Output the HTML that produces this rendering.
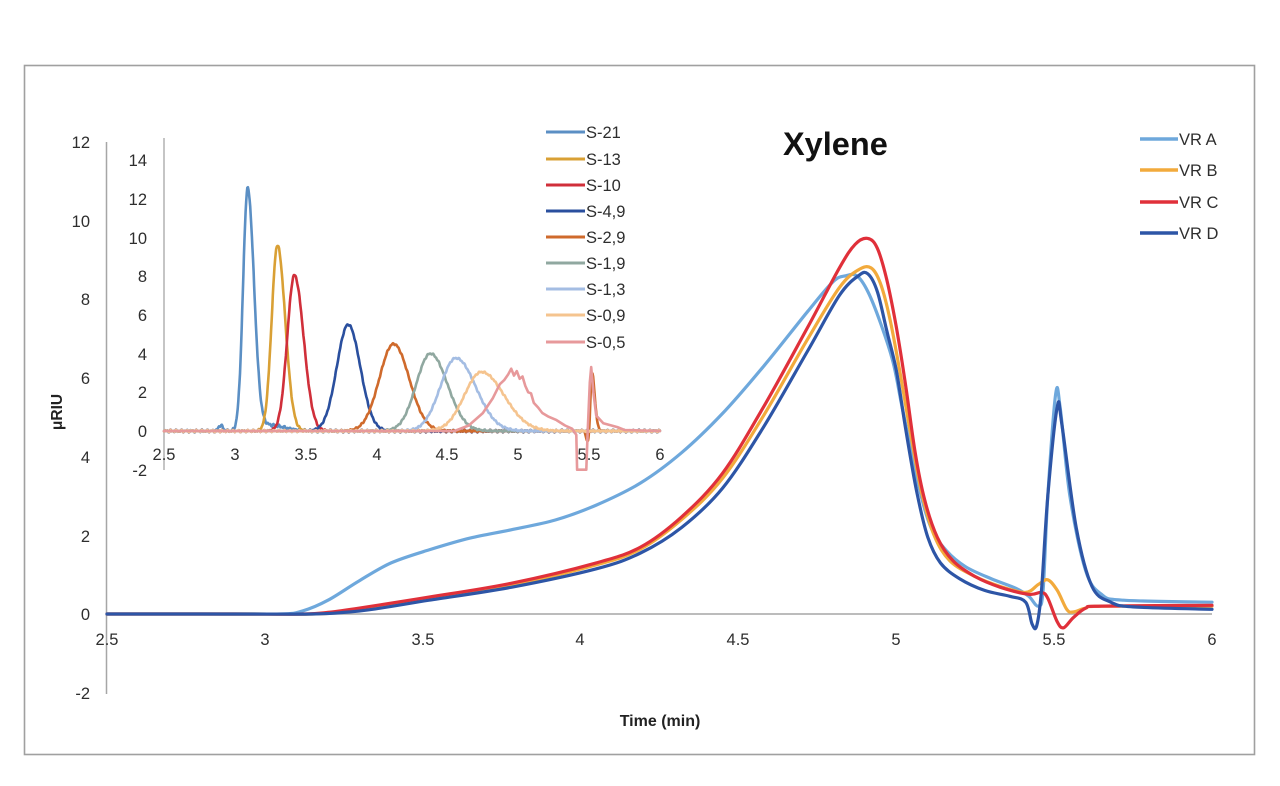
<!DOCTYPE html>
<html><head><meta charset="utf-8">
<style>
html,body{margin:0;padding:0;background:#fff;}
svg{display:block;font-family:"Liberation Sans",Arial,sans-serif;}
.tk{font-size:16.5px;fill:#2e2e2e;}
.lg{font-size:16.5px;fill:#2e2e2e;}
</style></head><body>
<svg id="c" width="1280" height="786" viewBox="0 0 1280 786" xmlns="http://www.w3.org/2000/svg">
<rect x="24.5" y="65.5" width="1230" height="689" fill="#fff" stroke="#a0a0a0" stroke-width="1.6"/>
<line x1="106.5" y1="142" x2="106.5" y2="694" stroke="#a6a6a6" stroke-width="1.5"/>
<line x1="107" y1="614" x2="1212" y2="614" stroke="#a6a6a6" stroke-width="1.5"/>
<line x1="164" y1="138" x2="164" y2="470" stroke="#a6a6a6" stroke-width="1.3"/>
<line x1="164" y1="431" x2="660" y2="431" stroke="#a6a6a6" stroke-width="1.3"/>
<g class="tk" text-anchor="end">
<text x="90" y="148">12</text>
<text x="90" y="227">10</text>
<text x="90" y="305">8</text>
<text x="90" y="384">6</text>
<text x="90" y="463">4</text>
<text x="90" y="542">2</text>
<text x="90" y="620">0</text>
<text x="90" y="699">-2</text>
</g>
<g class="tk" text-anchor="middle">
<text x="107" y="645">2.5</text>
<text x="265" y="645">3</text>
<text x="423" y="645">3.5</text>
<text x="580" y="645">4</text>
<text x="738" y="645">4.5</text>
<text x="896" y="645">5</text>
<text x="1054" y="645">5.5</text>
<text x="1212" y="645">6</text>
</g>
<g class="tk" text-anchor="end">
<text x="147" y="166">14</text>
<text x="147" y="205">12</text>
<text x="147" y="244">10</text>
<text x="147" y="282">8</text>
<text x="147" y="321">6</text>
<text x="147" y="360">4</text>
<text x="147" y="398">2</text>
<text x="147" y="437">0</text>
<text x="147" y="476">-2</text>
</g>
<g class="tk" text-anchor="middle">
<text x="164" y="460">2.5</text>
<text x="235" y="460">3</text>
<text x="306" y="460">3.5</text>
<text x="377" y="460">4</text>
<text x="447" y="460">4.5</text>
<text x="518" y="460">5</text>
<text x="589" y="460">5.5</text>
<text x="660" y="460">6</text>
</g>
<text x="57" y="412" font-size="15.5" font-weight="bold" fill="#222" text-anchor="middle" transform="rotate(-90 57 412) translate(0 5)">μRIU</text>
<text x="660" y="726" font-size="16" font-weight="bold" fill="#222" text-anchor="middle">Time (min)</text>
<text x="783" y="155" font-size="32.5" font-weight="bold" fill="#111">Xylene</text>

<g id="main" fill="none" stroke-width="3.2" stroke-linejoin="round" stroke-linecap="round"></g>
<g id="inset" fill="none" stroke-width="2.6" stroke-linejoin="round" stroke-linecap="round"></g>

<g stroke-width="3.5">
<line x1="1140" y1="139" x2="1178" y2="139" stroke="#6ea8dc"/>
<line x1="1140" y1="170" x2="1178" y2="170" stroke="#f2aa3c"/>
<line x1="1140" y1="202" x2="1178" y2="202" stroke="#e0303a"/>
<line x1="1140" y1="233" x2="1178" y2="233" stroke="#2d55a6"/>
</g>
<g class="lg">
<text x="1179" y="145">VR A</text>
<text x="1179" y="176">VR B</text>
<text x="1179" y="208">VR C</text>
<text x="1179" y="239">VR D</text>
</g>
<g stroke-width="3">
<line x1="546" y1="132" x2="585" y2="132" stroke="#5b8fc4"/>
<line x1="546" y1="159" x2="585" y2="159" stroke="#d9a035"/>
<line x1="546" y1="185" x2="585" y2="185" stroke="#d02f3a"/>
<line x1="546" y1="211" x2="585" y2="211" stroke="#2a4f9e"/>
<line x1="546" y1="237" x2="585" y2="237" stroke="#cf6a2c"/>
<line x1="546" y1="263" x2="585" y2="263" stroke="#90a8a0"/>
<line x1="546" y1="289" x2="585" y2="289" stroke="#a4bde3"/>
<line x1="546" y1="315" x2="585" y2="315" stroke="#f5c48f"/>
<line x1="546" y1="342" x2="585" y2="342" stroke="#e7999b"/>
</g>
<g class="lg">
<text x="586" y="138">S-21</text>
<text x="586" y="165">S-13</text>
<text x="586" y="191">S-10</text>
<text x="586" y="217">S-4,9</text>
<text x="586" y="243">S-2,9</text>
<text x="586" y="269">S-1,9</text>
<text x="586" y="295">S-1,3</text>
<text x="586" y="321">S-0,9</text>
<text x="586" y="348">S-0,5</text>
</g>
</svg>
<script>
(function(){
var NS="http://www.w3.org/2000/svg";
function X(t){return 107+(t-2.5)*315.7;}
function Y(v){return 614-v*39.33;}
function x2(t){return 164+(t-2.5)*141.7;}
function y2(v){return 431-v*19.36;}
function cr(p){
  var d="M"+p[0][0].toFixed(1)+","+p[0][1].toFixed(1);
  for(var i=0;i<p.length-1;i++){
    var p0=p[i-1]||p[i],p1=p[i],p2=p[i+1],p3=p[i+2]||p2;
    var c1x=p1[0]+(p2[0]-p0[0])/6,c1y=p1[1]+(p2[1]-p0[1])/6;
    var c2x=p2[0]-(p3[0]-p1[0])/6,c2y=p2[1]-(p3[1]-p1[1])/6;
    d+="C"+c1x.toFixed(1)+","+c1y.toFixed(1)+" "+c2x.toFixed(1)+","+c2y.toFixed(1)+" "+p2[0].toFixed(1)+","+p2[1].toFixed(1);
  }
  return d;
}
function path(g,d,col){
  var e=document.createElementNS(NS,"path");
  e.setAttribute("d",d);e.setAttribute("stroke",col);
  document.getElementById(g).appendChild(e);
}
function mainS(data,col){
  var p=data.map(function(a){return [X(a[0]),Y(a[1])];});
  path("main",cr(p),col);
}
var A=[[2.5,0],[2.8,0],[3.05,0],[3.12,0.08],[3.2,0.35],[3.3,0.85],[3.4,1.3],[3.52,1.63],[3.65,1.93],[3.78,2.14],[3.92,2.39],[4.05,2.77],[4.19,3.33],[4.32,4.1],[4.45,5.1],[4.58,6.3],[4.72,7.7],[4.8,8.45],[4.84,8.6],[4.875,8.6],[4.91,8.2],[4.95,7.4],[4.99,6.4],[5.02,5.2],[5.07,3.3],[5.11,2.2],[5.16,1.6],[5.22,1.2],[5.3,0.9],[5.38,0.65],[5.42,0.45],[5.45,0.2],[5.465,0.6],[5.48,3.0],[5.505,5.6],[5.52,5.2],[5.55,3.0],[5.6,1.1],[5.65,0.5],[5.72,0.35],[6,0.3]];
var B=[[2.5,0],[2.9,0],[3.15,0],[3.25,0.05],[3.35,0.15],[3.52,0.4],[3.78,0.74],[4.05,1.25],[4.19,1.65],[4.32,2.4],[4.45,3.45],[4.58,5.05],[4.72,7.0],[4.82,8.3],[4.88,8.75],[4.92,8.8],[4.95,8.4],[4.98,7.5],[5.015,6.0],[5.045,4.6],[5.08,3.1],[5.12,2.0],[5.17,1.35],[5.25,0.95],[5.33,0.7],[5.41,0.55],[5.45,0.75],[5.48,0.87],[5.51,0.6],[5.54,0.12],[5.56,0.05],[5.6,0.15],[5.65,0.2],[6,0.2]];
var C=[[2.5,0],[2.9,0],[3.12,0],[3.2,0.04],[3.3,0.15],[3.52,0.43],[3.78,0.78],[4.05,1.3],[4.19,1.7],[4.32,2.47],[4.45,3.58],[4.58,5.27],[4.72,7.3],[4.82,8.8],[4.87,9.4],[4.91,9.55],[4.94,9.3],[4.97,8.5],[5.0,7.3],[5.03,5.8],[5.06,4.1],[5.09,2.9],[5.13,1.95],[5.18,1.35],[5.25,0.95],[5.33,0.68],[5.42,0.5],[5.46,0.55],[5.48,0.4],[5.51,-0.2],[5.53,-0.35],[5.56,-0.1],[5.6,0.15],[5.65,0.2],[6,0.22]];
var D=[[2.5,0],[2.9,0],[3.15,0],[3.25,0.04],[3.35,0.13],[3.52,0.35],[3.78,0.68],[4.05,1.15],[4.19,1.55],[4.32,2.2],[4.45,3.2],[4.58,4.76],[4.72,6.7],[4.82,8.1],[4.88,8.6],[4.91,8.65],[4.94,8.2],[4.97,7.2],[5.0,6.2],[5.03,4.7],[5.065,3.1],[5.1,1.95],[5.14,1.3],[5.2,0.9],[5.28,0.6],[5.36,0.45],[5.41,0.3],[5.43,-0.25],[5.445,-0.3],[5.46,0.6],[5.48,3.0],[5.51,5.27],[5.525,4.8],[5.57,2.2],[5.62,0.7],[5.68,0.3],[5.75,0.18],[6,0.12]];
mainS(A,"#6ea8dc");mainS(B,"#f2aa3c");mainS(C,"#e0303a");mainS(D,"#2d55a6");

function gs(t,c,h,sl,sr){var s=t<c?sl:sr;var z=(t-c)/s;return h*Math.exp(-0.5*z*z);}
function inset(f,col){
  var d="";
  for(var t=2.5;t<=6.0001;t+=0.004){
    var v=f(t);
    d+=(d?"L":"M")+x2(t).toFixed(1)+","+y2(v).toFixed(1);
  }
  path("inset",d,col);
}
function noise(t,a){return a*(Math.sin(t*173.1)*0.5+Math.sin(t*311.7)*0.5);}
inset(function(t){return gs(t,3.09,12.5,0.032,0.045)+gs(t,2.9,0.3,0.015,0.015)+gs(t,3.25,0.3,0.08,0.1)+noise(t,0.08);},"#5b8fc4");
inset(function(t){return gs(t,3.30,9.6,0.04,0.055)+noise(t,0.06);},"#d9a035");
inset(function(t){return gs(t,3.42,8.05,0.05,0.065)+noise(t,0.06);},"#d02f3a");
inset(function(t){return gs(t,3.80,5.5,0.08,0.085)+noise(t,0.05);},"#2a4f9e");
inset(function(t){return gs(t,4.12,4.5,0.1,0.11)+gs(t,5.52,3.0,0.01,0.02)-gs(t,5.49,0.6,0.01,0.01)+noise(t,0.05);},"#cf6a2c");
inset(function(t){return gs(t,4.38,4.0,0.1,0.12)+noise(t,0.05);},"#90a8a0");
inset(function(t){return gs(t,4.56,3.77,0.11,0.14)+noise(t,0.05);},"#a4bde3");
inset(function(t){return gs(t,4.74,3.05,0.12,0.16)+noise(t,0.05);},"#f5c48f");
var P=[[2.5,0],[4.55,0],[4.65,0.3],[4.75,1.0],[4.82,1.7],[4.87,2.4],[4.9,2.6],[4.93,3.0],[4.95,3.2],[4.97,2.9],[4.99,3.1],[5.01,2.7],[5.03,2.85],[5.05,2.3],[5.07,2.05],[5.09,1.9],[5.11,1.5],[5.14,1.25],[5.17,0.9],[5.21,0.75],[5.27,0.5],[5.33,0.3],[5.38,0.1],[5.41,-0.2],[5.415,-2.0],[5.48,-2.0],[5.49,0],[5.505,2.5],[5.515,3.3],[5.53,2.0],[5.55,0.8],[5.6,0.4],[5.7,0.2],[5.75,0.05],[6,0]];
var d="";
for(var i=0;i<P.length;i++){d+=(i?"L":"M")+x2(P[i][0]).toFixed(1)+","+y2(P[i][1]+(P[i][0]>4.6&&P[i][0]<5.4?noise(P[i][0],0.1):0)).toFixed(1);}
path("inset",d,"#e7999b");
})();
</script>
</body></html>
